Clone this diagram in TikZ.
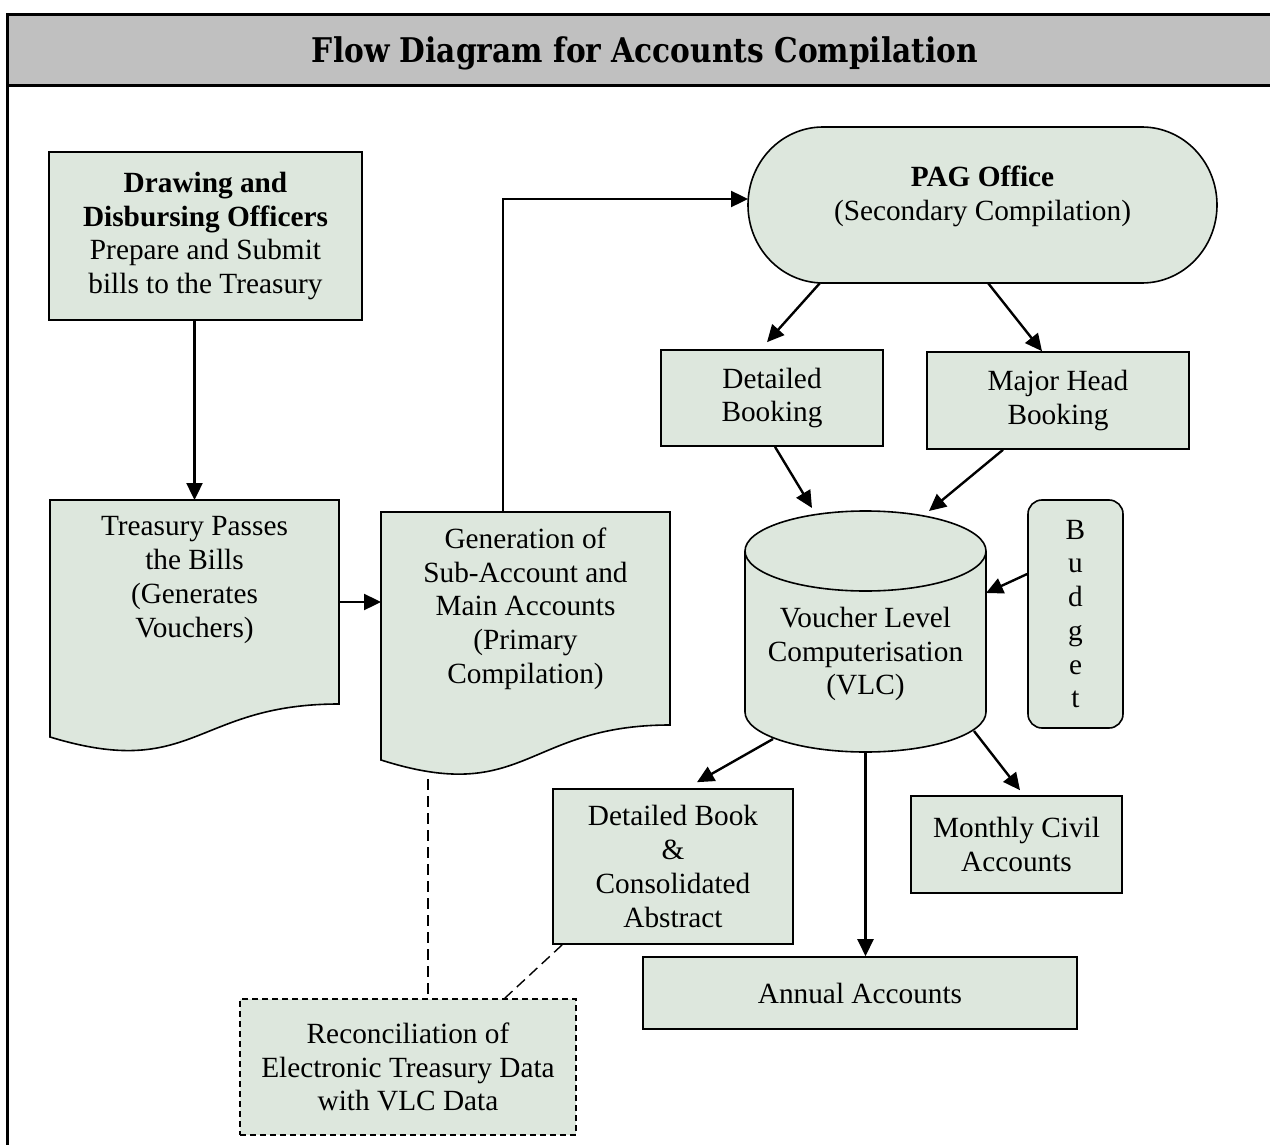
\documentclass[tikz,border=0pt]{standalone}
\usepackage{graphicx}
\usepackage{fontspec}
\setmainfont{Liberation Serif}
\newfontfamily\ttlfont{DejaVu Serif}
\usetikzlibrary{arrows.meta}
\definecolor{boxfill}{RGB}{221,231,221}
\definecolor{barfill}{RGB}{192,192,192}
\newcommand{\bodysize}{\fontsize{29.3}{33.7}\selectfont}

\begin{document}
\begin{tikzpicture}[x=1pt, y=-1pt, >={Triangle[length=17pt,width=16pt]},
        box/.style={draw, fill=boxfill, line width=1.6pt, align=center,
            font=\bodysize, inner sep=0pt},
        frm/.style={inner sep=0pt, outer sep=0pt},
        shp/.style={draw, fill=boxfill, line width=1.6pt},
        txt/.style={align=center, font=\bodysize, inner sep=0pt},
        arr/.style={->, line width=2.4pt},
        dsh/.style={line width=1.4pt, dash pattern=on 11pt off 6pt}]
    \useasboundingbox (0,0) rectangle (1270,1145);
    \clip (0,0) rectangle (1270,1145);
    \fill[barfill] (7,15) rectangle (1290,86);
    \draw[line width=3pt] (7,15) rectangle (1290,1160);
    \draw[line width=3pt] (7,86) -- (1290,86);
    \node[frm] (ttl) at (645,53) {\resizebox{666pt}{\height}{\ttlfont\bfseries
        \fontsize{34}{38}\selectfont Flow Diagram for Accounts Compilation}};

    \node[box, minimum width=313pt, minimum height=168pt] (ddo) at (205.5,236)
        {\textbf{Drawing and}\\\textbf{Disbursing Officers}\\Prepare and Submit\\bills to the Treasury};
    \node[frm, minimum width=289pt, minimum height=204pt] (tre) at (194.5,602) {};
    \node[frm, minimum width=289pt, minimum height=213pt] (gen) at (525.5,618.5) {};
    \node[frm, minimum width=469pt, minimum height=156pt] (pag) at (982.5,205) {};
    \node[box, minimum width=222pt, minimum height=96pt] (dbk) at (772,398) {Detailed\\Booking};
    \node[box, minimum width=262pt, minimum height=97pt] (mhb) at (1058,400.5) {Major Head\\Booking};
    \node[frm, minimum width=241pt, minimum height=241pt] (vlc) at (865.5,631.5) {};
    \node[box, rounded corners=14pt, minimum width=95pt, minimum height=228pt] (bud)
        at (1075.5,614) {B\\u\\d\\g\\e\\t};
    \node[box, minimum width=240pt, minimum height=155pt] (dba) at (673,866.5)
        {Detailed Book\\\&\\Consolidated\\Abstract};
    \node[box, minimum width=211pt, minimum height=97pt] (mca) at (1016.5,844.5)
        {Monthly Civil\\Accounts};
    \node[box, minimum width=434pt, minimum height=72pt] (ann) at (860,993) {Annual Accounts};
    \node[box, dash pattern=on 6pt off 4pt, minimum width=336pt, minimum height=136pt] (rec)
        at (408,1067) {Reconciliation of\\Electronic Treasury Data\\with VLC Data};

    \draw[shp] (tre.north west) -- (tre.north east) -- (tre.south east)
        .. controls (tre.south) and ([yshift=-77pt]tre.south) .. ([yshift=-33pt]tre.south west) -- cycle;
    \draw[shp] (gen.north west) -- (gen.north east) -- (gen.south east)
        .. controls (gen.south) and ([yshift=-81pt]gen.south) .. ([yshift=-35pt]gen.south west) -- cycle;
    \draw[shp] ([xshift=75pt]pag.north west) -- ([xshift=-75pt]pag.north east)
        arc[start angle=-90, end angle=90, x radius=75, y radius=78]
        -- ([xshift=75pt]pag.south west)
        arc[start angle=90, end angle=270, x radius=75, y radius=78] -- cycle;
    \draw[shp] ([yshift=-40pt]vlc.north west) -- ([yshift=40pt]vlc.south west)
        arc[start angle=180, end angle=0, x radius=120.5, y radius=40]
        -- ([yshift=-40pt]vlc.north east)
        arc[start angle=0, end angle=-180, x radius=120.5, y radius=40] -- cycle;
    \draw[line width=1.6pt] ([yshift=-40pt]vlc.north west)
        arc[start angle=180, end angle=0, x radius=120.5, y radius=40];

    \node[txt] (trelab) at ([yshift=22pt]tre.center)
        {Treasury Passes\\the Bills\\(Generates\\Vouchers)};
    \node[txt] (genlab) at ([yshift=10pt]gen.center)
        {Generation of\\Sub-Account and\\Main Accounts\\(Primary\\Compilation)};
    \node[txt] (paglab) at ([yshift=9pt]pag.center)
        {\textbf{PAG Office}\\(Secondary Compilation)};
    \node[txt] (vlclab) at ([yshift=-22.5pt]vlc.center)
        {Voucher Level\\Computerisation\\(VLC)};

    \draw[arr] (tre.north |- ddo.south) -- (tre.north);
    \draw[arr] (tre.east) -- (tre.east -| gen.west);
    \draw[arr] ([xshift=-22.5pt]gen.north) |- ([yshift=6pt]pag.west);
    \draw[arr] ([xshift=-162.5pt]pag.south) -- ([xshift=-5pt,yshift=7pt]dbk.north);
    \draw[arr] ([xshift=5.5pt]pag.south) -- ([xshift=-16pt]mhb.north);
    \draw[arr] ([xshift=3pt]dbk.south) -- ([xshift=-53.5pt,yshift=3pt]vlc.north);
    \draw[arr] ([xshift=-55pt]mhb.south) -- ([xshift=63.5pt]vlc.north);
    \draw[arr] ([yshift=40pt]bud.west) -- ([yshift=38.5pt]vlc.east);
    \draw[arr] ([xshift=-92.5pt,yshift=13pt]vlc.south) -- ([xshift=24pt,yshift=6pt]dba.north);
    \draw[arr] (vlc.south) -- (vlc.south |- ann.north);
    \draw[arr] ([xshift=108.5pt,yshift=21pt]vlc.south) -- ([xshift=3.5pt,yshift=5pt]mca.north);
    \draw[dsh] ([xshift=-97.5pt,yshift=-54pt]gen.south) -- ([xshift=20pt]rec.north);
    \draw[dsh] ([xshift=10pt]dba.south west) -- ([xshift=-72pt]rec.north east);
\end{tikzpicture}
\end{document}
